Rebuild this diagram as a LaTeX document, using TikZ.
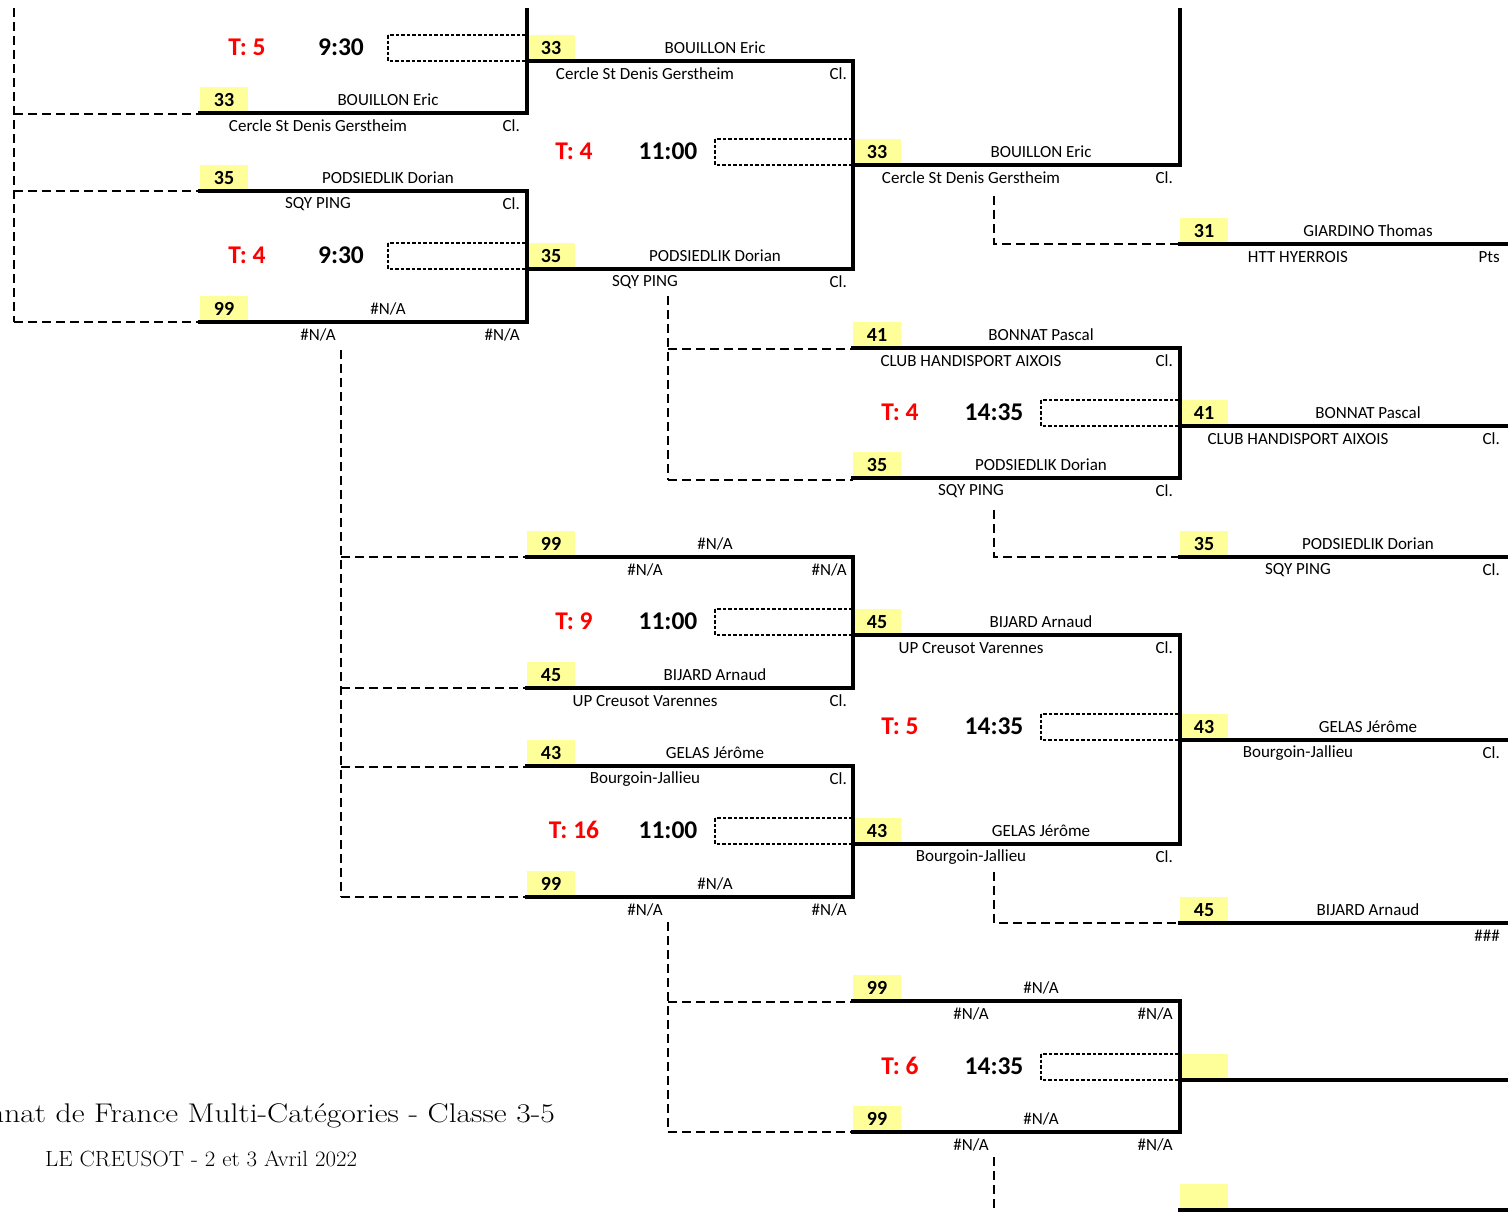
\documentclass[tikz,border=0pt]{standalone}
\usepackage{fontspec}
\newfontfamily\calfont{Carlito}
\definecolor{yel}{RGB}{255,255,153}
\tikzset{
  wline/.style={line width=3.6pt, line cap=rect},
  dline/.style={line width=1.6pt, dash pattern=on 9pt off 5pt},
  bline/.style={line width=1.3pt, dash pattern=on 3.5pt off 2pt},
  namef/.style={inner sep=0pt, font=\calfont\fontsize{17}{19}\selectfont},
  numf/.style={inner sep=0pt, font=\calfont\bfseries\fontsize{20}{22}\selectfont},
  tfont/.style={inner sep=0pt, text=red, font=\calfont\bfseries\fontsize{25.5}{28}\selectfont},
  timef/.style={inner sep=0pt, font=\calfont\bfseries\fontsize{25.5}{28}\selectfont},
}
% #1 name, #2 x, #3 y, #4 xend, #5 num, #6 player, #7 club, #8 right label
\newcommand\pslot[8]{%
  \fill[yel] (#2,#3-26) rectangle (#2+48,#3);
  \draw[wline] (#2,#3) -- (#4,#3);
  \node[numf] (#1n) at (#2+24,#3-13) {#5};
  \node[namef] (#1p) at (#2+188,#3-13) {#6};
  \node[namef] (#1c) at (#2+118,#3+13) {#7};
  \node[namef,anchor=east] (#1r) at (#2+320,#3+13) {#8};
}
% #1 name, #2 x, #3 winner y, #4 table, #5 time
\newcommand\pmatch[5]{%
  \node[tfont] (#1t) at (#2+47,#3-14) {T: #4};
  \node[timef] (#1h) at (#2+141,#3-14) {#5};
  \draw[bline] (#2+188,#3-26) rectangle (#2+327,#3);
}
\begin{document}
\begin{tikzpicture}[x=1pt,y=-1pt]
\useasboundingbox (0,0) rectangle (1508,1211);
\clip (0,0) rectangle (1508,1211);
\fill[white] (0,0) rectangle (1508,1211);

% dashed connectors
\draw[dline] (14,8) -- (14,322);
\draw[dline] (14,114) -- (200,114);
\draw[dline] (14,191) -- (200,191);
\draw[dline] (14,322) -- (200,322);
\draw[dline] (341,350) -- (341,897);
\foreach \yy in {557,688,767,897} \draw[dline] (341,\yy) -- (527,\yy);
\draw[dline] (668,296) -- (668,480);
\draw[dline] (668,349) -- (853,349);
\draw[dline] (668,480) -- (853,480);
\draw[dline] (668,922) -- (668,1132);
\draw[dline] (668,1002) -- (853,1002);
\draw[dline] (668,1132) -- (853,1132);
\draw[dline] (994,196) -- (994,244) -- (1180,244);
\draw[dline] (994,510) -- (994,557) -- (1180,557);
\draw[dline] (994,872) -- (994,923) -- (1180,923);
\draw[dline] (994,1157) -- (994,1215);

% column A
\pslot{a1}{200}{113}{527}{33}{BOUILLON Eric}{Cercle St Denis Gerstheim}{Cl.}
\pslot{a2}{200}{191}{527}{35}{PODSIEDLIK Dorian}{SQY PING}{Cl.}
\pslot{a3}{200}{322}{527}{99}{\#N/A}{\#N/A}{\#N/A}
% column B
\pslot{b1}{527}{61}{853}{33}{BOUILLON Eric}{Cercle St Denis Gerstheim}{Cl.}
\pslot{b2}{527}{269}{853}{35}{PODSIEDLIK Dorian}{SQY PING}{Cl.}
\pslot{b3}{527}{557}{853}{99}{\#N/A}{\#N/A}{\#N/A}
\pslot{b4}{527}{688}{853}{45}{BIJARD Arnaud}{UP Creusot Varennes}{Cl.}
\pslot{b5}{527}{766}{853}{43}{GELAS Jérôme}{Bourgoin-Jallieu}{Cl.}
\pslot{b6}{527}{897}{853}{99}{\#N/A}{\#N/A}{\#N/A}
% column C
\pslot{c1}{853}{165}{1180}{33}{BOUILLON Eric}{Cercle St Denis Gerstheim}{Cl.}
\pslot{c2}{853}{348}{1180}{41}{BONNAT Pascal}{CLUB HANDISPORT AIXOIS}{Cl.}
\pslot{c3}{853}{478}{1180}{35}{PODSIEDLIK Dorian}{SQY PING}{Cl.}
\pslot{c4}{853}{635}{1180}{45}{BIJARD Arnaud}{UP Creusot Varennes}{Cl.}
\pslot{c5}{853}{844}{1180}{43}{GELAS Jérôme}{Bourgoin-Jallieu}{Cl.}
\pslot{c6}{853}{1001}{1180}{99}{\#N/A}{\#N/A}{\#N/A}
\pslot{c7}{853}{1132}{1180}{99}{\#N/A}{\#N/A}{\#N/A}
% column D
\pslot{d1}{1180}{244}{1512}{31}{GIARDINO Thomas}{HTT HYERROIS}{Pts}
\pslot{d2}{1180}{426}{1512}{41}{BONNAT Pascal}{CLUB HANDISPORT AIXOIS}{Cl.}
\pslot{d3}{1180}{557}{1512}{35}{PODSIEDLIK Dorian}{SQY PING}{Cl.}
\pslot{d4}{1180}{740}{1512}{43}{GELAS Jérôme}{Bourgoin-Jallieu}{Cl.}
\pslot{d5}{1180}{923}{1512}{45}{BIJARD Arnaud}{}{\#\#\#}
\pslot{d6}{1180}{1080}{1512}{}{}{}{}
\pslot{d7}{1180}{1210}{1512}{}{}{}{}

% vertical bracket lines
\draw[wline] (527,10) -- (527,113);
\draw[wline] (527,191) -- (527,322);
\draw[wline] (853,61) -- (853,269);
\draw[wline] (853,557) -- (853,688);
\draw[wline] (853,766) -- (853,897);
\draw[wline] (1180,10) -- (1180,165);
\draw[wline] (1180,348) -- (1180,478);
\draw[wline] (1180,635) -- (1180,844);
\draw[wline] (1180,1001) -- (1180,1132);

% match labels
\pmatch{m1}{200}{61}{5}{9:30}
\pmatch{m2}{200}{269}{4}{9:30}
\pmatch{m3}{527}{165}{4}{11:00}
\pmatch{m4}{853}{426}{4}{14:35}
\pmatch{m5}{527}{635}{9}{11:00}
\pmatch{m6}{527}{844}{16}{11:00}
\pmatch{m7}{853}{740}{5}{14:35}
\pmatch{m8}{853}{1080}{6}{14:35}

% titles
\node[inner sep=0pt, anchor=base east, font=\fontsize{27}{31}\selectfont] (title) at (555,1122) {\scalebox{1.17}[1]{Championnat de France Multi-Catégories - Classe 3-5}};
\node[inner sep=0pt, anchor=base west, font=\fontsize{22}{26}\selectfont] (subtitle) at (45,1166) {\scalebox{1.04}[1]{LE CREUSOT - 2 et 3 Avril 2022}};
\end{tikzpicture}
\end{document}
